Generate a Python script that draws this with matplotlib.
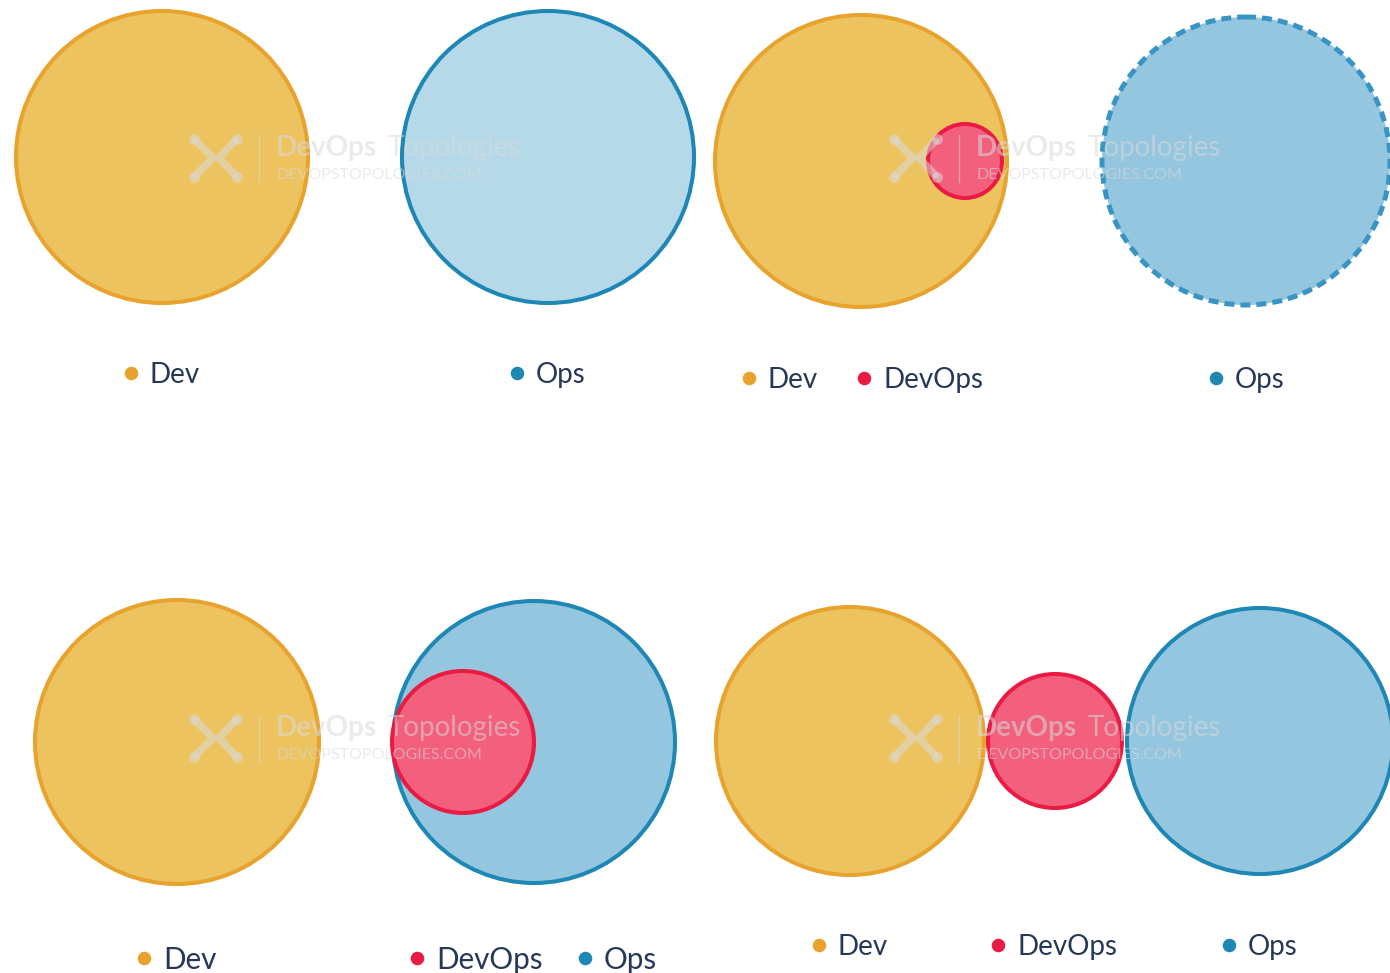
import matplotlib
matplotlib.use("Agg")
import matplotlib.pyplot as plt
from matplotlib.patches import Circle

plt.rcParams['font.family'] = ['Lato', 'DejaVu Sans']

# ---- data (pixel units of the canvas) ----
# each circle: (label, cx, cy, r, style)
panel_tl = [("Dev", 162, 157, 146, "dev"), ("Ops", 548, 157, 146, "ops_light")]
panel_tr = [("Dev", 861, 161, 146, "dev"), ("DevOps", 965, 161, 37, "devops"),
            ("Ops", 1246, 161, 144, "ops_dash")]
panel_bl = [("Dev", 177, 742, 142, "dev"), ("Ops", 534, 742, 141, "ops"),
            ("DevOps", 463, 742, 71, "devops")]
panel_br = [("Dev", 850, 741, 134, "dev"), ("DevOps", 1055, 741, 67, "devops"),
            ("Ops", 1260, 741, 133, "ops")]

# legends: (label, marker x, y, font size)
legend_items = [
    ("Dev", 131, 373, 20), ("Ops", 517, 373, 20),
    ("Dev", 749, 378, 20), ("DevOps", 864, 378, 20), ("Ops", 1216, 378, 20),
    ("Dev", 144, 958, 21.3), ("DevOps", 417, 958, 21.3), ("Ops", 585, 958, 21.3),
    ("Dev", 819, 945, 20), ("DevOps", 998, 945, 20), ("Ops", 1229, 945, 20),
]
watermarks = [(190, 158), (890, 158), (190, 738), (890, 738)]

styles = {
    "dev": dict(fc="#EDC360", ec="#E7A32D", ls="-"),
    "ops_light": dict(fc="#B5D9E9", ec="#1E87B5", ls="-"),
    "ops": dict(fc="#95C6DF", ec="#1E87B5", ls="-"),
    "ops_dash": dict(fc="#95C6DF", ec="#3A94C3", ls=(0, (2.0, 1.2))),
    "devops": dict(fc="#F2607E", ec="#EA1B42", ls="-"),
}
marker_colors = {"Dev": "#E8A22E", "Ops": "#1F87B4", "DevOps": "#EA1B42"}
text_color = "#253858"

fig = plt.figure(figsize=(13.9, 9.73), dpi=100)
ax = fig.add_axes([0, 0, 1, 1])
ax.set_xlim(0, 1390)
ax.set_ylim(973, 0)
ax.set_aspect("equal")
ax.axis("off")

for panel in (panel_tl, panel_tr, panel_bl, panel_br):
    for i, (lab, cx, cy, r, st) in enumerate(panel):
        s = styles[st]
        lw = 3.6 if st == "ops_dash" else 2.9
        ax.add_patch(Circle((cx, cy), r, facecolor=s["fc"], edgecolor=s["ec"],
                            lw=lw, linestyle=s["ls"], zorder=2 + i))

for lab, x, y, fs in legend_items:
    ax.scatter([x], [y], s=95, color=marker_colors[lab], zorder=10, lw=0)
    ax.text(x + 19, y + 2, lab, fontsize=fs, color=text_color, va="center",
            ha="left", zorder=10)

# watermark
wm_color = "#DADADA"
wm_alpha = 0.55
for wx, wy in watermarks:
    kw = dict(color=wm_color, lw=5.5, alpha=wm_alpha, solid_capstyle="round",
              solid_joinstyle="round", zorder=20)
    # left ">" and right "<" with knobs
    ax.plot([wx + 6, wx + 23, wx + 6], [wy - 17, wy, wy + 17], **kw)
    ax.plot([wx + 45, wx + 29, wx + 45], [wy - 17, wy, wy + 17], **kw)
    for kx, ky in ((wx + 4, wy - 19), (wx + 4, wy + 19), (wx + 47, wy - 19), (wx + 47, wy + 19)):
        ax.scatter([kx], [ky], s=60, color=wm_color, alpha=wm_alpha, lw=0, zorder=20)
    ax.plot([wx + 69, wx + 69], [wy - 23, wy + 24], color=wm_color, lw=1,
            alpha=wm_alpha, zorder=20)
    ax.text(wx + 86, wy - 10, "DevOps", fontsize=20, fontweight="bold",
            color=wm_color, alpha=wm_alpha, va="center", ha="left", zorder=20)
    ax.text(wx + 198, wy - 10, "Topologies", fontsize=20, color=wm_color,
            alpha=wm_alpha, va="center", ha="left", zorder=20)
    ax.text(wx + 87, wy + 17, "DEVOPSTOPOLOGIES.COM", fontsize=11.5, color=wm_color,
            alpha=wm_alpha, va="center", ha="left", zorder=20)

fig.savefig("out.png", dpi=100)
